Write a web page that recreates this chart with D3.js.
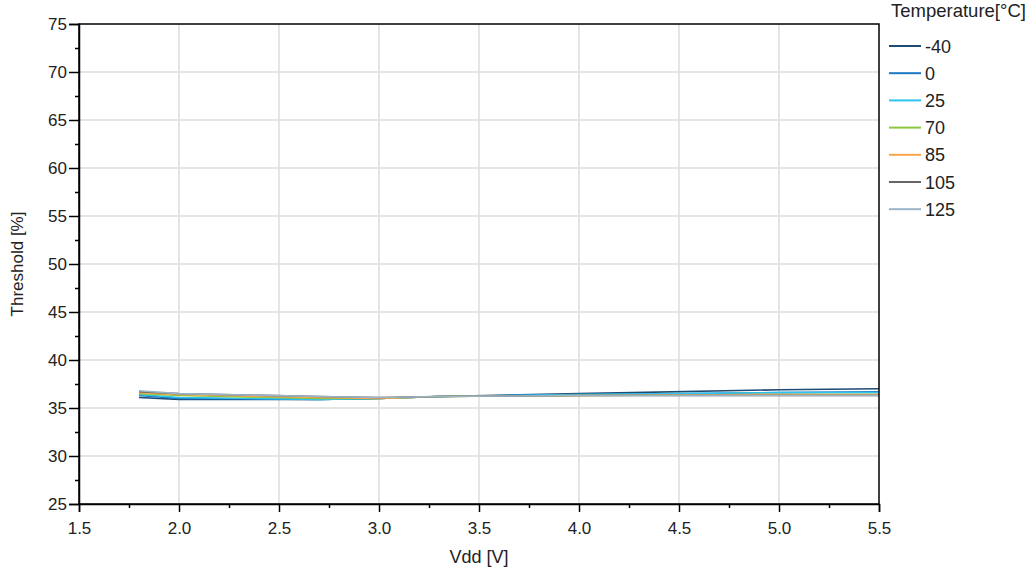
<!DOCTYPE html>
<html>
<head>
<meta charset="utf-8">
<script src="https://cdn.jsdelivr.net/npm/d3@7"></script>
<style>
  body { margin: 0; background: #fff; }
  svg { font-family: "Liberation Sans", Arial, sans-serif; }
</style>
</head>
<body>
<div id="chart"></div>
<script>
// Data
const vdd = [1.8, 2.0, 2.7, 3.0, 3.3, 4.0, 5.0, 5.5];
const temperatures = ["-40", "0", "25", "70", "85", "105", "125"];
const thresholdM40 = [36.1, 35.9, 35.9, 36.0, 36.2, 36.5, 36.9, 37.0];
const threshold0   = [36.3, 36.0, 35.9, 36.0, 36.2, 36.4, 36.6, 36.7];
const threshold25  = [36.4, 36.1, 35.9, 36.0, 36.2, 36.4, 36.6, 36.6];
const threshold70  = [36.5, 36.3, 36.0, 36.0, 36.2, 36.3, 36.4, 36.4];
const threshold85  = [36.6, 36.4, 36.1, 36.0, 36.2, 36.3, 36.4, 36.4];
const threshold105 = [36.7, 36.5, 36.2, 36.1, 36.2, 36.3, 36.3, 36.3];
const threshold125 = [36.8, 36.5, 36.2, 36.1, 36.2, 36.3, 36.3, 36.3];
const xTicks = [1.5, 2.0, 2.5, 3.0, 3.5, 4.0, 4.5, 5.0, 5.5];
const yTicks = [25, 30, 35, 40, 45, 50, 55, 60, 65, 70, 75];

const seriesValues = [thresholdM40, threshold0, threshold25, threshold70, threshold85, threshold105, threshold125];
const colors = ["#1e4a73", "#1a78c2", "#2ec4ef", "#8cc63e", "#f9a64a", "#666666", "#9ab5c8"];

const width = 1034, height = 572;
const margin = { top: 24, right: 155, bottom: 68, left: 79 };
const innerW = width - margin.left - margin.right;
const innerH = height - margin.top - margin.bottom;

const svg = d3.select("#chart").append("svg")
    .attr("width", width)
    .attr("height", height);

const x = d3.scaleLinear().domain([1.5, 5.5]).range([margin.left, margin.left + innerW]);
const y = d3.scaleLinear().domain([25, 75]).range([margin.top + innerH, margin.top]);

// grid
const grid = svg.append("g").attr("class", "grid");
grid.selectAll(".gx").data(xTicks.slice(1, -1)).enter().append("line")
    .attr("x1", d => x(d)).attr("x2", d => x(d))
    .attr("y1", y(25)).attr("y2", y(75))
    .attr("stroke", "#dcdcdc").attr("stroke-width", 1.5);
grid.selectAll(".gy").data(yTicks.slice(1, -1)).enter().append("line")
    .attr("x1", x(1.5)).attr("x2", x(5.5))
    .attr("y1", d => y(d)).attr("y2", d => y(d))
    .attr("stroke", "#dcdcdc").attr("stroke-width", 1.5);

// lines
const line = d3.line()
    .x((d, i) => x(vdd[i]))
    .y(d => y(d));

svg.append("g").selectAll("path").data(seriesValues).enter().append("path")
    .attr("d", d => line(d))
    .attr("fill", "none")
    .attr("stroke", (d, i) => colors[i])
    .attr("stroke-width", 1.6);

// frame
svg.append("rect")
    .attr("x", x(1.5)).attr("y", y(75))
    .attr("width", x(5.5) - x(1.5)).attr("height", y(25) - y(75))
    .attr("fill", "none").attr("stroke", "#000").attr("stroke-width", 1.5);

// axes
svg.append("g")
    .attr("transform", `translate(0,${y(25)})`)
    .call(d3.axisBottom(x).tickValues(xTicks).tickFormat(d3.format(".1f")).tickSize(8).tickPadding(10));
svg.append("g")
    .attr("transform", `translate(0,${y(25)})`)
    .call(d3.axisBottom(x).tickValues(d3.range(1.75, 5.5, 0.5)).tickFormat("").tickSize(4))
    .call(g => g.select(".domain").remove());

svg.append("g")
    .attr("transform", `translate(${x(1.5)},0)`)
    .call(d3.axisLeft(y).tickValues(yTicks).tickSize(10).tickPadding(2));
svg.append("g")
    .attr("transform", `translate(${x(1.5)},0)`)
    .call(d3.axisLeft(y).tickValues(d3.range(27.5, 75, 5)).tickFormat("").tickSize(4))
    .call(g => g.select(".domain").remove());

svg.selectAll(".tick text").attr("font-size", 17).attr("fill", "#222")
    .attr("font-family", "Liberation Sans, Arial, sans-serif");
svg.selectAll(".tick line, .domain").attr("stroke", "#000").attr("stroke-width", 1.5);

// axis titles
svg.append("text")
    .attr("x", x(3.5)).attr("y", 563)
    .attr("text-anchor", "middle")
    .attr("font-size", 18).attr("fill", "#222")
    .text("Vdd [V]");
svg.append("text")
    .attr("transform", `translate(23,${y(50)}) rotate(-90)`)
    .attr("text-anchor", "middle")
    .attr("font-size", 17).attr("fill", "#222")
    .text("Threshold [%]");

// legend
const legend = svg.append("g").attr("transform", "translate(889,0)");
legend.append("text")
    .attr("x", 2).attr("y", 17)
    .attr("font-size", 18.5).attr("fill", "#222")
    .text("Temperature[°C]");
const items = legend.selectAll(".item").data(temperatures).enter().append("g")
    .attr("transform", (d, i) => `translate(0,${46 + i * 27.2})`);
items.append("line")
    .attr("x1", 0).attr("x2", 32)
    .attr("stroke", (d, i) => colors[i]).attr("stroke-width", 2);
items.append("text")
    .attr("x", 36).attr("y", 6.5)
    .attr("font-size", 18).attr("fill", "#222")
    .text(d => d);
</script>
</body>
</html>
